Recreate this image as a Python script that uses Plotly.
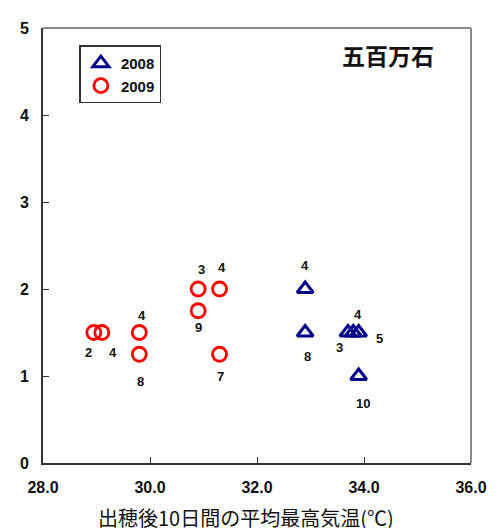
import plotly.graph_objects as go

# ---- data ----
x_2008 = [32.9, 32.9, 33.7, 33.8, 33.9, 33.9]
y_2008 = [2.0, 1.5, 1.5, 1.5, 1.5, 1.0]
lab_2008 = ["4", "8", "3", "4", "5", "10"]

x_2009 = [28.95, 29.1, 29.8, 29.8, 30.9, 31.3, 30.9, 31.3]
y_2009 = [1.5, 1.5, 1.5, 1.25, 2.0, 2.0, 1.75, 1.25]
lab_2009 = ["2", "4", "4", "8", "3", "4", "9", "7"]

x_ticks = [28.0, 30.0, 32.0, 34.0, 36.0]
x_tick_text = ["28.0", "30.0", "32.0", "34.0", "36.0"]
y_ticks = [0, 1, 2, 3, 4, 5]

title_text = "五百万石"
x_title = "出穂後10日間の平均最高気温(℃)"

# ---- label pixel offsets (style) ----
off_2008 = [(0, 24), (2, -24), (-8, -15), (5, 18), (21, -6), (4, -27)]
off_2009 = [(-5, -20), (11, -20), (3, 17), (1, -27), (3, 20), (2, 22), (0, -17), (1, -22)]

RED = "#ff0000"
BLUE = "#00008b"
FONT = "Liberation Sans, Arial, sans-serif"
CJK = "Noto Sans CJK JP, sans-serif"

fig = go.Figure()
fig.add_trace(go.Scatter(
    x=x_2008, y=y_2008, mode="markers", name="<b>2008</b>",
    marker=dict(symbol="triangle-up-open", size=14, color=BLUE, line=dict(width=3, color=BLUE)),
))
fig.add_trace(go.Scatter(
    x=x_2009, y=y_2009, mode="markers", name="<b>2009</b>",
    marker=dict(symbol="circle-open", size=14, color=RED, line=dict(width=2.8, color=RED)),
))

annots = []
for xs, ys, labs, offs in [(x_2008, y_2008, lab_2008, off_2008), (x_2009, y_2009, lab_2009, off_2009)]:
    for xv, yv, lb, (dx, dy) in zip(xs, ys, labs, offs):
        annots.append(dict(x=xv, y=yv, text="<b>" + lb + "</b>", showarrow=False, xshift=dx, yshift=dy,
                           font=dict(family=FONT, size=13, color="#111111"),
                           xref="x", yref="y"))
annots.append(dict(text="<b>" + title_text + "</b>", x=0.918, y=0.938, xref="paper", yref="paper",
                   xanchor="right", yanchor="middle", showarrow=False,
                   font=dict(family=CJK, size=23, color="#111111")))
annots.append(dict(text=x_title, x=0.475, y=0, xref="paper", yref="paper",
                   xanchor="center", yanchor="middle", yshift=-54, showarrow=False,
                   height=22, borderpad=0,
                   font=dict(family=CJK, size=20, color="#111111")))
fig.update_layout(annotations=annots)

fig.update_layout(
    width=491, height=523,
    margin=dict(l=33, r=18, t=12, b=68),
    paper_bgcolor="white", plot_bgcolor="white",
    showlegend=True,
    legend=dict(x=0.085, y=0.96, xanchor="left", yanchor="top",
                bordercolor="#333333", borderwidth=1.5, bgcolor="white",
                font=dict(family=FONT, size=15, color="#111111"),
                itemwidth=30, tracegroupgap=0),
    xaxis=dict(range=[28, 36], tickvals=x_ticks, ticktext=["<b>" + t + "</b>" for t in x_tick_text],
               ticks="inside", ticklen=6, tickwidth=1.2, tickcolor="#333333",
               showline=True, linecolor="#333333", linewidth=2, mirror=False,
               showgrid=False, zeroline=False, ticklabelstandoff=9,
               tickfont=dict(family=FONT, size=16, color="#111111")),
    yaxis=dict(range=[0, 5], tickvals=y_ticks, ticktext=["<b>%d</b>" % v for v in y_ticks],
               ticks="inside", ticklen=6, tickwidth=1.2, tickcolor="#333333",
               showline=True, linecolor="#333333", linewidth=2, mirror=False,
               showgrid=False, zeroline=False, ticklabelstandoff=9,
               tickfont=dict(family=FONT, size=16, color="#111111")),
    shapes=[
        dict(type="line", xref="paper", yref="paper", x0=0, x1=1, y0=1, y1=1,
             line=dict(color="#8a8a8a", width=2)),
        dict(type="line", xref="paper", yref="paper", x0=1, x1=1, y0=0, y1=1,
             line=dict(color="#8a8a8a", width=2)),
    ],
)

fig.write_html("out.html")
